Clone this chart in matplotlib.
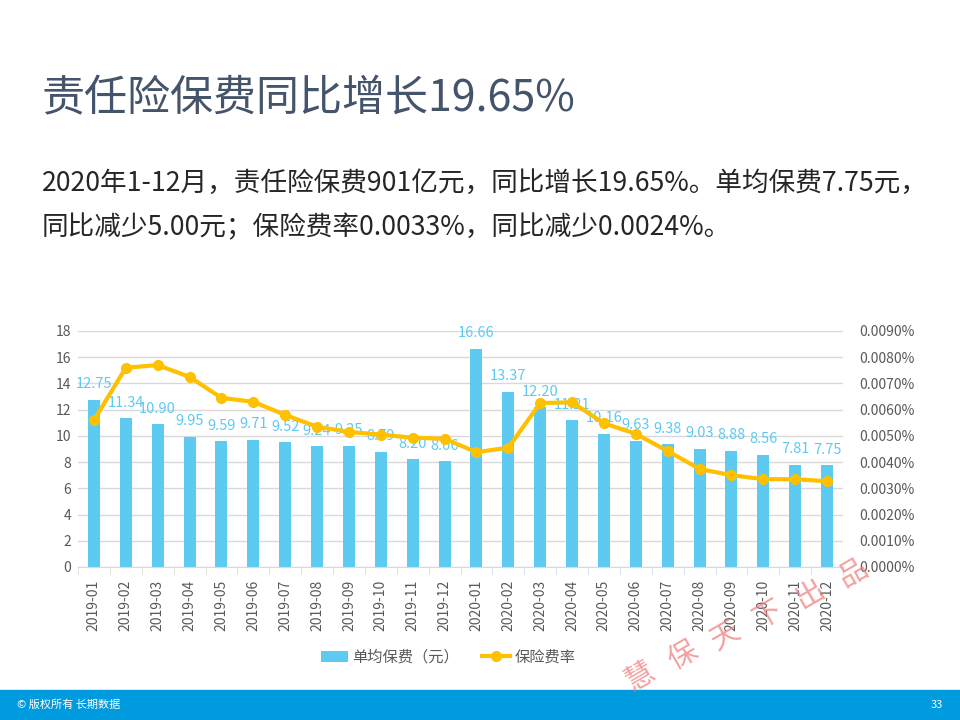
import numpy as np
import matplotlib.pyplot as plt
from matplotlib.ticker import FuncFormatter, MultipleLocator

plt.rcParams['font.family'] = ['Noto Sans CJK SC', 'DejaVu Sans']

months = ["2019-01", "2019-02", "2019-03", "2019-04", "2019-05", "2019-06",
          "2019-07", "2019-08", "2019-09", "2019-10", "2019-11", "2019-12",
          "2020-01", "2020-02", "2020-03", "2020-04", "2020-05", "2020-06",
          "2020-07", "2020-08", "2020-09", "2020-10", "2020-11", "2020-12"]
premium = [12.75, 11.34, 10.90, 9.95, 9.59, 9.71, 9.52, 9.24, 9.25, 8.79, 8.20, 8.06,
           16.66, 13.37, 12.20, 11.21, 10.16, 9.63, 9.38, 9.03, 8.88, 8.56, 7.81, 7.75]
# 保险费率, in percent
rate = [0.0056, 0.0076, 0.0077, 0.00725, 0.00645, 0.0063, 0.0058, 0.00535, 0.00515, 0.00505, 0.00493, 0.00489,
        0.00438, 0.00455, 0.00625, 0.00628, 0.00548, 0.00508, 0.00442, 0.00374, 0.0035, 0.00335, 0.00335, 0.00327]

blue = "#5DCAF2"
gold = "#FFC000"
grey = "#595959"

fig = plt.figure(figsize=(9.6, 7.2), dpi=100)

fig.text(42 / 960, 1 - 99 / 720, "责任险保费同比增长19.65%", fontsize=31,
         color="#44546A", va="center", ha="left")
fig.text(42 / 960, 1 - 183 / 720, "2020年1-12月，责任险保费901亿元，同比增长19.65%。单均保费7.75元，",
         fontsize=19.2, color="#262626", va="center", ha="left")
fig.text(42 / 960, 1 - 228 / 720, "同比减少5.00元；保险费率0.0033%，同比减少0.0024%。",
         fontsize=19.2, color="#262626", va="center", ha="left")

ax = fig.add_axes([78 / 960, 1 - 567 / 720, 765 / 960, 236 / 720])
x = np.arange(len(months))
ax.bar(x, premium, width=0.38, color=blue, zorder=2, label="单均保费（元）")
for xi, v in zip(x, premium):
    ax.annotate(f"{v:.2f}", (xi, v), xytext=(0, 6), textcoords="offset points",
                ha="center", va="bottom", fontsize=10.5, color=blue)

ax.set_xlim(-0.5, len(months) - 0.5)
ax.set_ylim(0, 18)
ax.yaxis.set_major_locator(MultipleLocator(2))
ax.grid(axis="y", color="#D9D9D9", linewidth=1, zorder=0)
for s in ["top", "right", "left"]:
    ax.spines[s].set_visible(False)
ax.spines["bottom"].set_color("#D9D9D9")
ax.set_xticks(x)
ax.set_xticklabels(months, rotation=90, fontsize=10, color=grey)
ax.set_xticks(np.arange(-0.5, len(months), 1), minor=True)
ax.tick_params(axis="x", which="major", length=0, pad=9)
ax.tick_params(axis="x", which="minor", length=5, color="#D9D9D9")
ax.tick_params(axis="y", length=0, pad=5, labelsize=10, labelcolor=grey)

ax2 = ax.twinx()
ax2.plot(x, rate, color=gold, linewidth=3, marker="o", markersize=7, zorder=3, label="保险费率")
ax2.set_ylim(0, 0.009)
ax2.yaxis.set_major_locator(MultipleLocator(0.001))
ax2.yaxis.set_major_formatter(FuncFormatter(lambda v, p: f"{v:.4f}%"))
ax2.tick_params(axis="y", length=0, pad=12, labelsize=10, labelcolor=grey)
for s in ax2.spines.values():
    s.set_visible(False)

h1, l1 = ax.get_legend_handles_labels()
h2, l2 = ax2.get_legend_handles_labels()
fig.legend(h1 + h2, l1 + l2, loc="center", bbox_to_anchor=(448 / 960, 1 - 657 / 720),
           ncol=2, frameon=False, fontsize=11, labelcolor=grey,
           handlelength=1.8, handletextpad=0.3, columnspacing=1.5)

# footer bar
fig.patches.append(plt.Rectangle((0, 0), 1, 30 / 720, transform=fig.transFigure,
                                 color="#009ADE", zorder=0))
fig.text(17 / 960, 15 / 720, "© 版权所有 长期数据", fontsize=8, color="white",
         va="center", ha="left")
fig.text(937 / 960, 15 / 720, "33", fontsize=8, color="white", va="center", ha="center")

# watermark
wm = "慧保天下出品"
for i, ch in enumerate(wm):
    fig.text((640 + 42.6 * i) / 960, 1 - (677 - 20.8 * i) / 720, ch, fontsize=21,
             color="#F08080", alpha=0.75, rotation=30, ha="center", va="center")

fig.savefig("out.png", dpi=100)
